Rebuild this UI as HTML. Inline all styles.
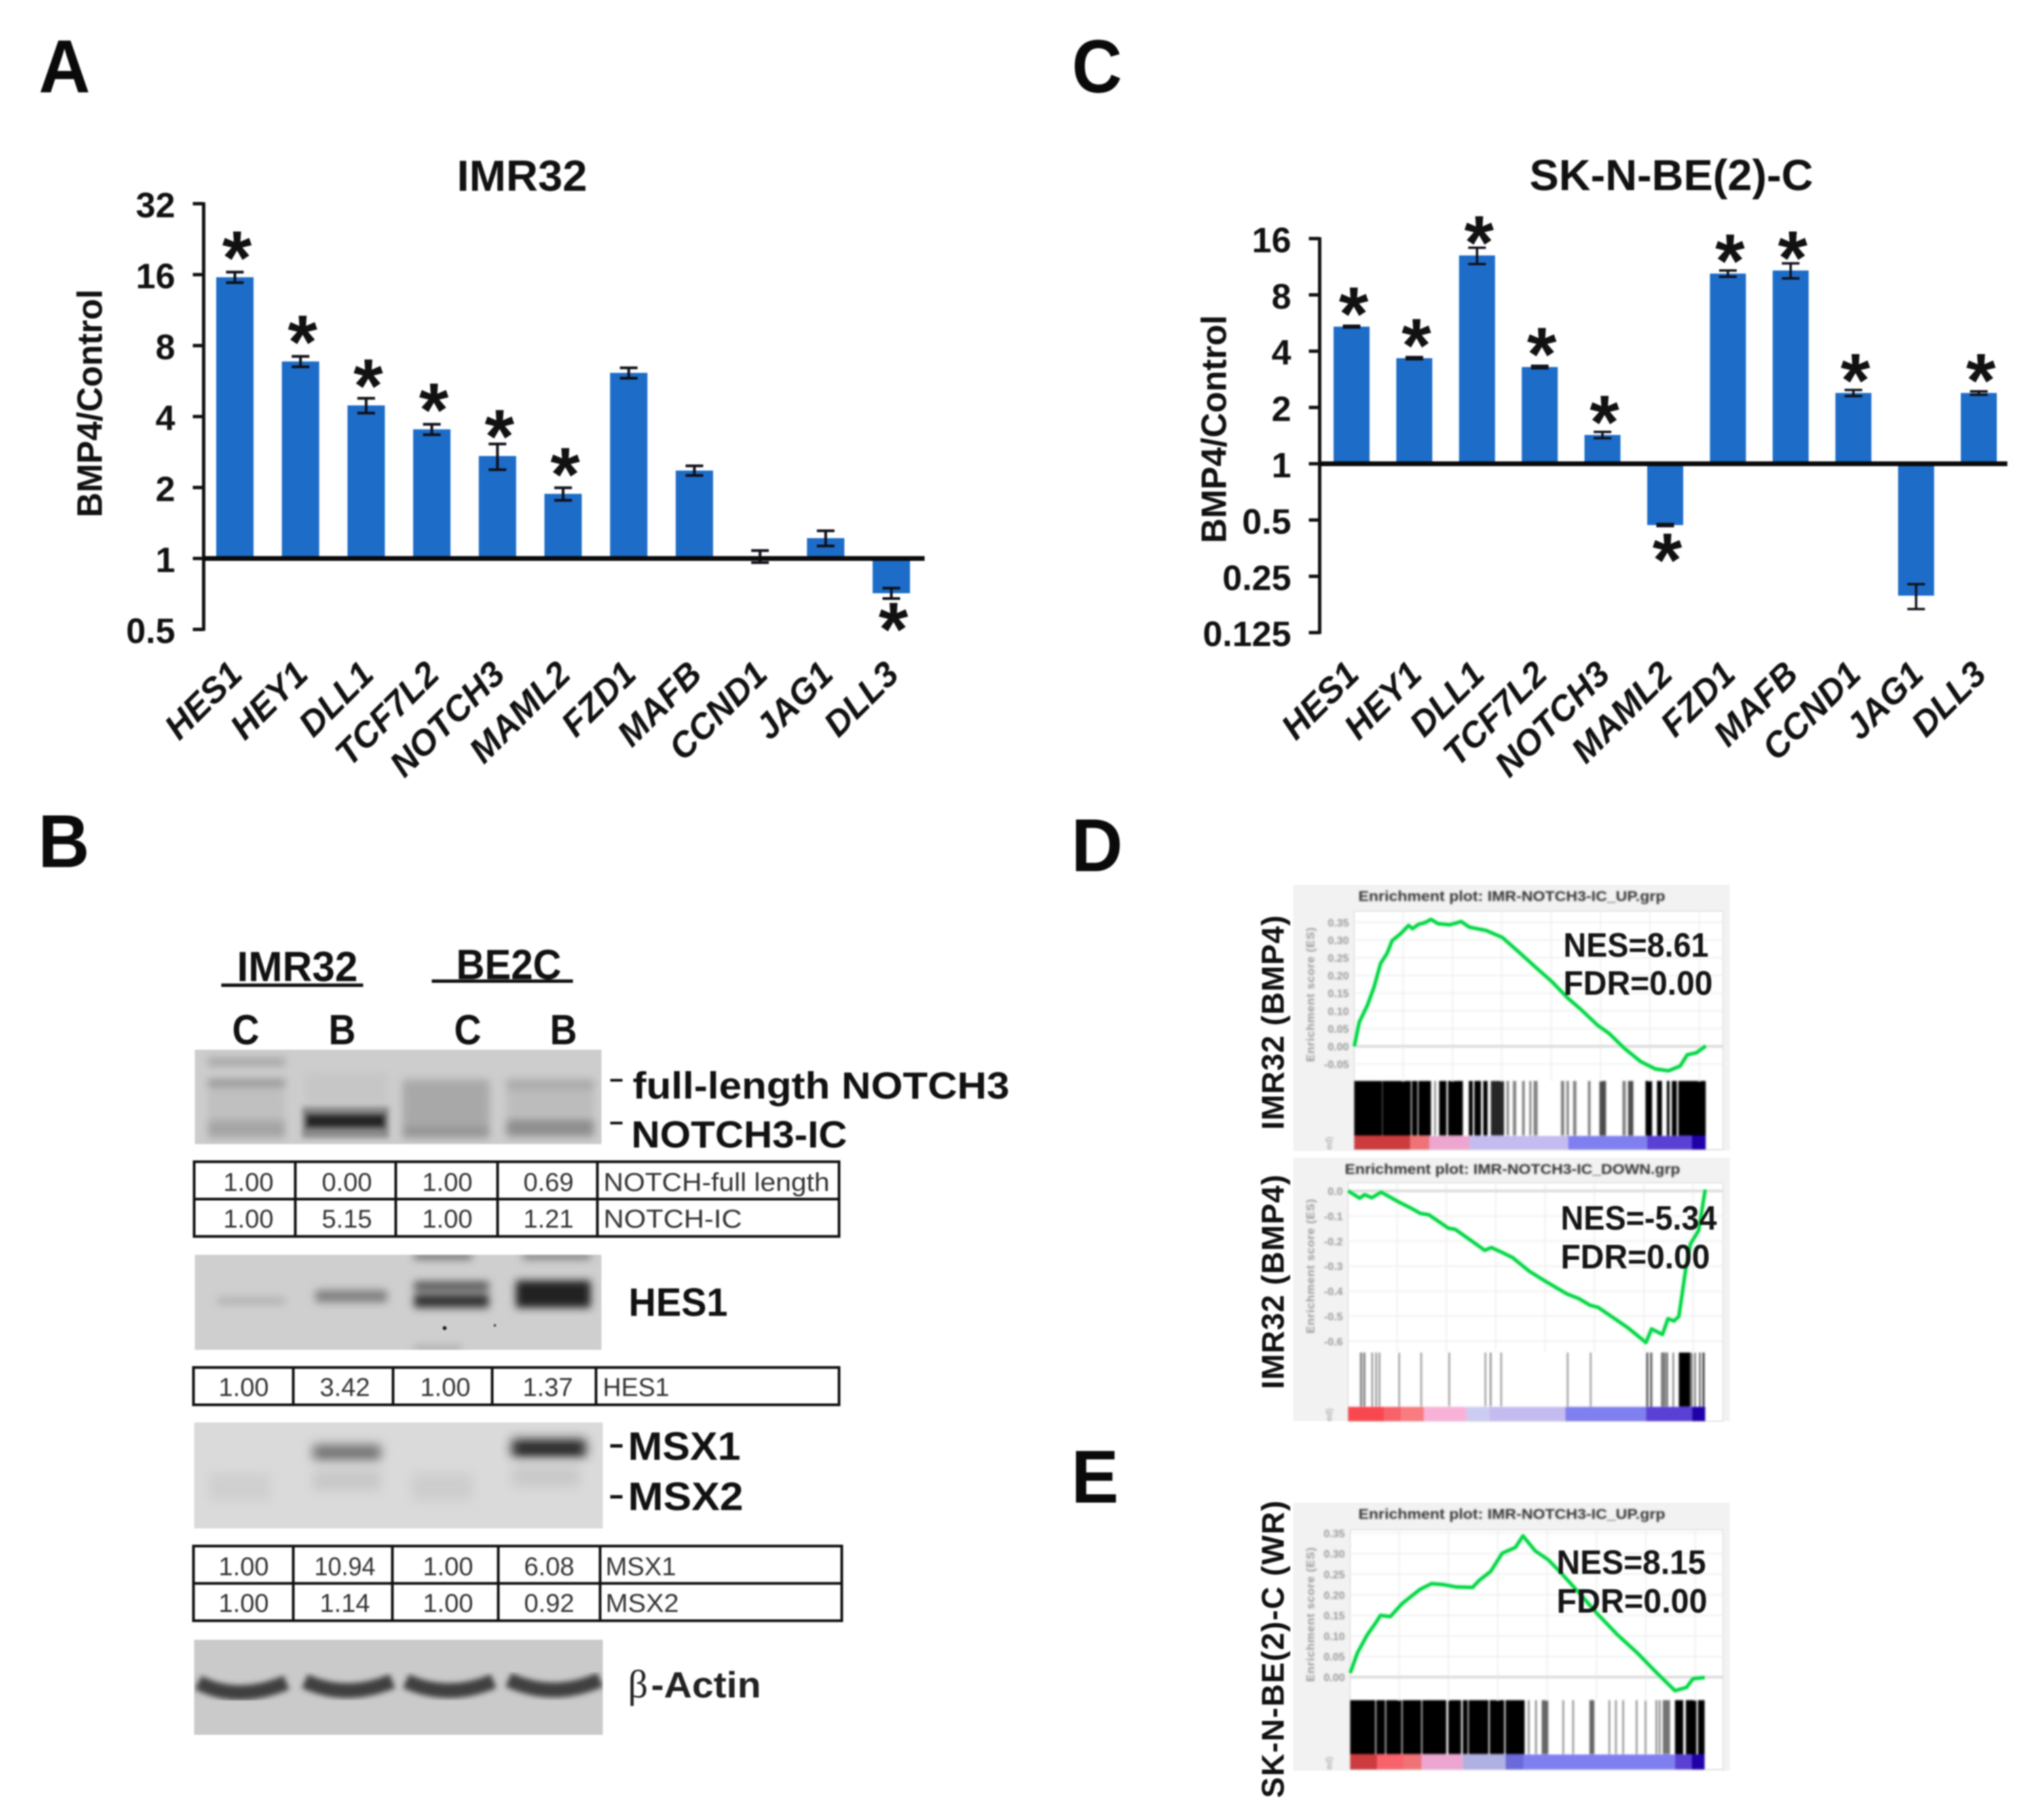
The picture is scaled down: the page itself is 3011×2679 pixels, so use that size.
<!DOCTYPE html>
<html lang="en">
<head>
<meta charset="utf-8">
<title>BMP4 NOTCH3 figure</title>
<style>
html,body{margin:0;padding:0;background:#fff;width:3011px;height:2679px;overflow:hidden}
svg{display:block;font-family:"Liberation Sans",sans-serif}
#fig{filter:blur(1px)}
.b{font-weight:700}
.cell{font-size:38px;fill:#333;text-anchor:middle}
.rowlab{font-size:38px;fill:#333}
.rule{stroke:#111;stroke-width:4;fill:none}
</style>
</head>
<body>
<svg id="fig" xmlns="http://www.w3.org/2000/svg" width="3011" height="2679" viewBox="0 0 3011 2679">
<defs>
<filter id="b1" x="-5%" y="-5%" width="110%" height="110%"><feGaussianBlur stdDeviation="1"/></filter>
<filter id="b4" x="-30%" y="-60%" width="160%" height="220%"><feGaussianBlur stdDeviation="4"/></filter>
<filter id="b6" x="-30%" y="-60%" width="160%" height="220%"><feGaussianBlur stdDeviation="6"/></filter>
<filter id="b8" x="-30%" y="-80%" width="160%" height="260%"><feGaussianBlur stdDeviation="8"/></filter>
<clipPath id="c1"><rect x="287" y="1546" width="599" height="139"/></clipPath>
<clipPath id="c2"><rect x="287" y="1848" width="599" height="140"/></clipPath>
<clipPath id="c3"><rect x="286" y="2095" width="602" height="156"/></clipPath>
<clipPath id="c4"><rect x="286" y="2413" width="602" height="140"/></clipPath>
</defs>
<rect width="3011" height="2679" fill="#fff"/>

<g class="b" font-size="110" fill="#0a0a0a">
<text x="57" y="136" textLength="76" lengthAdjust="spacingAndGlyphs">A</text>
<text x="56" y="1277" textLength="76" lengthAdjust="spacingAndGlyphs">B</text>
<text x="1579" y="136" textLength="74" lengthAdjust="spacingAndGlyphs">C</text>
<text x="1578" y="1283" textLength="76" lengthAdjust="spacingAndGlyphs">D</text>
<text x="1578" y="2213" textLength="70" lengthAdjust="spacingAndGlyphs">E</text>
</g>

<g id="chartA"></g>
<g id="chartC"></g>

<g>
<g class="b" font-size="62" fill="#111">
<text x="349" y="1445" textLength="178" lengthAdjust="spacingAndGlyphs">IMR32</text>
<text x="672" y="1442" textLength="155" lengthAdjust="spacingAndGlyphs">BE2C</text>
<text x="362" y="1538" text-anchor="middle" textLength="40" lengthAdjust="spacingAndGlyphs">C</text>
<text x="504" y="1538" text-anchor="middle" textLength="40" lengthAdjust="spacingAndGlyphs">B</text>
<text x="689" y="1538" text-anchor="middle" textLength="40" lengthAdjust="spacingAndGlyphs">C</text>
<text x="830" y="1538" text-anchor="middle" textLength="40" lengthAdjust="spacingAndGlyphs">B</text>
</g>
<line x1="326" x2="535" y1="1451" y2="1451" stroke="#111" stroke-width="5"/>
<line x1="636" x2="844" y1="1445" y2="1445" stroke="#111" stroke-width="5"/>

<g clip-path="url(#c1)">
<rect x="287" y="1546" width="599" height="139" fill="#cdcdcd"/>
<g filter="url(#b6)">
<rect x="306" y="1558" width="114" height="12" fill="#a4a4a4"/>
<rect x="306" y="1590" width="114" height="10" fill="#8e8e8e"/>
<rect x="306" y="1600" width="114" height="50" fill="#c0c0c0"/>
<rect x="306" y="1650" width="114" height="26" fill="#a4a4a4"/>
<rect x="450" y="1580" width="120" height="45" fill="#c6c6c6"/>
<rect x="593" y="1590" width="128" height="84" fill="#a8a8a8"/>
<rect x="593" y="1660" width="128" height="16" fill="#949494"/>
<rect x="746" y="1590" width="129" height="14" fill="#a8a8a8"/>
<rect x="746" y="1604" width="129" height="40" fill="#bcbcbc"/>
<rect x="746" y="1648" width="129" height="26" fill="#8e8e8e"/>
</g>
<g filter="url(#b4)">
<rect x="445" y="1630" width="128" height="46" fill="#8a8a8a"/>
<rect x="450" y="1640" width="118" height="22" fill="#262626"/>
</g>
</g>
<g class="b" font-size="56" fill="#111">
<rect x="899" y="1589" width="18" height="4" fill="#111"/>
<rect x="899" y="1652" width="18" height="4" fill="#111"/>
<text x="932" y="1618" textLength="555" lengthAdjust="spacingAndGlyphs">full-length  NOTCH3</text>
<text x="930" y="1690" textLength="318" lengthAdjust="spacingAndGlyphs">NOTCH3-IC</text>
</g>

<g transform="translate(0,-9)">
<rect class="rule" x="286" y="1720" width="950" height="110"/>
<line class="rule" x1="286" x2="1236" y1="1775" y2="1775"/>
<line class="rule" x1="435" x2="435" y1="1720" y2="1830"/>
<line class="rule" x1="583" x2="583" y1="1720" y2="1830"/>
<line class="rule" x1="733" x2="733" y1="1720" y2="1830"/>
<line class="rule" x1="880" x2="880" y1="1720" y2="1830"/>
<text class="cell" x="366" y="1763">1.00</text>
<text class="cell" x="511" y="1763">0.00</text>
<text class="cell" x="659" y="1763">1.00</text>
<text class="cell" x="808" y="1763">0.69</text>
<text class="rowlab" x="889" y="1763" textLength="333" lengthAdjust="spacingAndGlyphs">NOTCH-full length</text>
<text class="cell" x="366" y="1817">1.00</text>
<text class="cell" x="511" y="1817">5.15</text>
<text class="cell" x="659" y="1817">1.00</text>
<text class="cell" x="808" y="1817">1.21</text>
<text class="rowlab" x="889" y="1817" textLength="204" lengthAdjust="spacingAndGlyphs">NOTCH-IC</text>
</g>

<g clip-path="url(#c2)">
<rect x="287" y="1848" width="599" height="140" fill="#cfcfcf"/>
<g filter="url(#b6)">
<rect x="320" y="1912" width="100" height="8" fill="#a8a8a8"/>
<rect x="465" y="1900" width="105" height="18" fill="#808080"/>
<rect x="610" y="1888" width="110" height="12" fill="#484848"/>
<rect x="610" y="1906" width="110" height="20" fill="#303030"/>
<rect x="760" y="1886" width="110" height="40" fill="#222"/>
<rect x="610" y="1846" width="85" height="8" fill="#5c5c5c"/>
<rect x="770" y="1846" width="100" height="8" fill="#6c6c6c"/>
<rect x="610" y="1982" width="70" height="8" fill="#a8a8a8"/>
</g>
<circle cx="655" cy="1956" r="3" fill="#222"/>
<circle cx="729" cy="1952" r="2" fill="#555"/>
</g>
<text class="b" x="926" y="1938" font-size="58" fill="#111" textLength="146" lengthAdjust="spacingAndGlyphs">HES1</text>

<g>
<rect class="rule" x="285" y="2014" width="951" height="55"/>
<line class="rule" x1="432" x2="432" y1="2014" y2="2069"/>
<line class="rule" x1="579" x2="579" y1="2014" y2="2069"/>
<line class="rule" x1="725" x2="725" y1="2014" y2="2069"/>
<line class="rule" x1="878" x2="878" y1="2014" y2="2069"/>
<text class="cell" x="359" y="2056">1.00</text>
<text class="cell" x="508" y="2056">3.42</text>
<text class="cell" x="656" y="2056">1.00</text>
<text class="cell" x="807" y="2056">1.37</text>
<text class="rowlab" x="888" y="2056" textLength="98" lengthAdjust="spacingAndGlyphs">HES1</text>
</g>

<g clip-path="url(#c3)">
<rect x="286" y="2095" width="602" height="156" fill="#dadada"/>
<g filter="url(#b8)">
<rect x="461" y="2128" width="100" height="22" fill="#6e6e6e"/>
<rect x="754" y="2120" width="109" height="26" fill="#222"/>
<rect x="461" y="2165" width="100" height="30" fill="#c8c8c8"/>
<rect x="308" y="2170" width="90" height="40" fill="#cfcfcf"/>
<rect x="606" y="2170" width="90" height="40" fill="#cdcdcd"/>
<rect x="754" y="2160" width="100" height="30" fill="#c9c9c9"/>
</g>
</g>
<g class="b" font-size="58" fill="#111">
<rect x="899" y="2127" width="18" height="5" fill="#111"/>
<rect x="899" y="2202" width="18" height="5" fill="#111"/>
<text x="925" y="2150" textLength="166" lengthAdjust="spacingAndGlyphs">MSX1</text>
<text x="925" y="2224" textLength="170" lengthAdjust="spacingAndGlyphs">MSX2</text>
</g>

<g>
<rect class="rule" x="285" y="2277" width="955" height="110"/>
<line class="rule" x1="285" x2="1240" y1="2332" y2="2332"/>
<line class="rule" x1="432" x2="432" y1="2277" y2="2387"/>
<line class="rule" x1="578" x2="578" y1="2277" y2="2387"/>
<line class="rule" x1="734" x2="734" y1="2277" y2="2387"/>
<line class="rule" x1="884" x2="884" y1="2277" y2="2387"/>
<text class="cell" x="359" y="2320">1.00</text>
<text class="cell" x="508" y="2320" textLength="90" lengthAdjust="spacingAndGlyphs">10.94</text>
<text class="cell" x="660" y="2320">1.00</text>
<text class="cell" x="809" y="2320">6.08</text>
<text class="rowlab" x="892" y="2320" textLength="104" lengthAdjust="spacingAndGlyphs">MSX1</text>
<text class="cell" x="359" y="2374">1.00</text>
<text class="cell" x="508" y="2374">1.14</text>
<text class="cell" x="660" y="2374">1.00</text>
<text class="cell" x="809" y="2374">0.92</text>
<text class="rowlab" x="892" y="2374" textLength="108" lengthAdjust="spacingAndGlyphs">MSX2</text>
</g>

<g clip-path="url(#c4)" transform="translate(0,2)">
<rect x="286" y="2413" width="602" height="140" fill="#cacaca"/>
<g filter="url(#b4)" fill="none" stroke="#404040" stroke-width="22">
<path d="M292 2476 Q350 2506 422 2476"/>
<path d="M449 2474 Q510 2502 578 2474"/>
<path d="M598 2474 Q660 2502 727 2474"/>
<path d="M749 2472 Q815 2502 884 2472"/>
</g>
</g>
<text x="925" y="2500" font-size="58" fill="#222" font-family="Liberation Serif, serif">β</text>
<text class="b" x="959" y="2500" font-size="54" fill="#222" textLength="162" lengthAdjust="spacingAndGlyphs">-Actin</text>
</g>

<g id="gseaD1" transform="translate(0,-9)"></g>
<g id="gseaD2" transform="translate(0,-9)"></g>
<g id="gseaE" transform="translate(0,-9)"></g>

<g class="b" fill="#111">
<text transform="translate(1891,1664) rotate(-90)" font-size="46" textLength="316" lengthAdjust="spacing">IMR32 (BMP4)</text>
<text transform="translate(1891,2046) rotate(-90)" font-size="46" textLength="316" lengthAdjust="spacing">IMR32 (BMP4)</text>
<text transform="translate(1891,2648) rotate(-90)" font-size="46" textLength="438" lengthAdjust="spacing">SK-N-BE(2)-C (WR)</text>
</g>
</svg>

<script>
var NS = 'http://www.w3.org/2000/svg';

/* ---------- bar chart data ---------- */
var genes = ['HES1','HEY1','DLL1','TCF7L2','NOTCH3','MAML2','FZD1','MAFB','CCND1','JAG1','DLL3'];
var ticksA = ['32','16','8','4','2','1','0.5'];
var valuesA = [15.6, 6.85, 4.46, 3.53, 2.72, 1.88, 6.13, 2.36, 1.02, 1.22, 0.712];
var errorsA = [0.8, 0.35, 0.32, 0.18, 0.34, 0.115, 0.31, 0.11, 0.06, 0.09, 0.036];
var starsA  = [1,1,1,1,1,1,0,0,0,0,1];
var ticksC = ['16','8','4','2','1','0.5','0.25','0.125'];
var valuesC = [5.41, 3.67, 13.0, 3.29, 1.425, 0.47, 10.4, 10.8, 2.39, 0.197, 2.39];
var errorsC = [0.06, 0.05, 1.3, 0.05, 0.055, 0.006, 0.4, 1.0, 0.09, 0.03, 0.05];
var starsC  = [1,1,1,1,1,1,1,1,1,0,1];

/* ---------- enrichment data (rank along list, enrichment score) ---------- */
var ranksD1 = [0,15,40,60,80,100,115,140,165,177,195,215,233,255,290,325,350,400,450,500,550,600,650,690,740,775,820,870,915,955,990,1012,1040,1068];
var scoresD1 = [0,.068,.116,.167,.234,.263,.298,.317,.341,.332,.344,.349,.358,.346,.343,.352,.336,.327,.307,.266,.224,.183,.135,.103,.059,.036,-.005,-.043,-.064,-.069,-.056,-.024,-.018,.001];
var hitStartD1 = [0,86,175,195,243,258,285,348,365,392,415,463,482,510,532,545,628,645,665,710,745,815,832,885,920,950,965,985];
var hitEndD1 = [85,172,192,233,248,280,330,360,385,405,455,470,492,518,538,557,638,652,675,718,765,825,848,905,935,958,980,1068];
var hitToneD1 = [1,1,1,1,.5,1,1,1,1,1,.85,.5,.5,.5,.5,.5,.5,.5,.5,.5,.7,.5,.7,1,1,1,1,1];
var stripEndD1 = [170,228,350,650,890,1025,1068];
var stripClassD1 = ['red','salmon','pink','lav','blue','indigo','navy'];
var ticksD1 = [.35,.30,.25,.20,.15,.10,.05,0,-.05];
var tickTextD1 = ['0.35','0.30','0.25','0.20','0.15','0.10','0.05','0.00','-0.05'];

var ranksD2 = [0,35,50,72,100,125,155,190,220,245,275,305,325,365,415,435,465,500,550,600,665,700,735,760,800,850,905,922,955,972,990,1005,1015,1025,1040,1065,1075,1085];
var scoresD2 = [0,-.029,-.015,-.027,-.005,-.023,-.045,-.068,-.09,-.095,-.122,-.149,-.153,-.19,-.237,-.226,-.244,-.266,-.32,-.361,-.411,-.429,-.456,-.465,-.501,-.546,-.605,-.551,-.573,-.51,-.519,-.501,-.411,-.32,-.212,-.158,-.077,.005];
var hitStartD2 = [36,46,71,83,93,153,220,305,415,431,463,665,735,906,918,951,958,966,986,1005,1042,1052,1067,1077];
var hitEndD2 = [42,52,75,87,97,157,224,309,419,435,467,669,739,912,924,957,964,972,990,1040,1046,1056,1071,1083];
var hitToneD2 = [.55,.55,.55,.55,.55,.5,.5,.5,.5,.6,.5,.5,.5,.7,.7,.6,.6,.6,.6,1,.7,.7,.8,.8];
var stripEndD2 = [110,160,230,360,430,660,905,1045,1085];
var stripClassD2 = ['bright','coral','salmon2','pink2','lav2','lav','blue','indigo','navy'];
var ticksD2 = [0,-.1,-.2,-.3,-.4,-.5,-.6];
var tickTextD2 = ['0.0','-0.1','-0.2','-0.3','-0.4','-0.5','-0.6'];

var ranksE = [0,22,52,77,92,122,157,182,212,247,282,322,372,392,427,462,502,525,562,602,642,692,752,812,872,932,987,1022,1042,1077];
var scoresE = [.01,.059,.103,.131,.15,.147,.178,.194,.213,.227,.225,.219,.218,.235,.257,.301,.315,.343,.307,.285,.252,.208,.153,.103,.059,.01,-.033,-.025,-.004,-.001];
var hitStartE = [0,79,109,159,219,298,342,360,424,472,540,562,582,645,675,727,785,805,827,868,895,928,938,950,987,1020,1057];
var hitEndE = [76,106,156,216,292,337,357,420,468,530,545,567,602,650,680,742,790,810,832,873,900,933,943,972,1012,1052,1077];
var hitToneE = [1,1,1,1,1,1,1,1,1,1,.5,.5,.6,.45,.45,.6,.45,.45,.45,.45,.45,.5,.5,.55,1,1,1];
var stripEndE = [82,162,217,342,472,527,987,1037,1077];
var stripClassE = ['red','coral','salmon','pink','lav3','blue2','blue','indigo','navy'];
var ticksE = [.35,.30,.25,.20,.15,.10,.05,0];
var tickTextE = ['0.35','0.30','0.25','0.20','0.15','0.10','0.05','0.00'];

var palette = {red:'#cc3a3c',salmon:'#ee7276',pink:'#eca6cf',lav:'#c4bcf0',blue:'#7f7ff0',indigo:'#5a40d4',navy:'#2000a8',bright:'#f84650',coral:'#f8626a',salmon2:'#f87c80',pink2:'#f8b2d8',lav2:'#ccccf2',lav3:'#b0b0e2',blue2:'#6a6ad8'};

function mk(tag, attrs, parent) {
  var el = document.createElementNS(NS, tag);
  for (var k in attrs) el.setAttribute(k, attrs[k]);
  parent.appendChild(el);
  return el;
}

function drawBars(root, o) {
  function y(v) { return o.y1 - Math.log2(v) * o.unit; }
  function cx(i) { return o.x0 + o.step * i; }

  var title = mk('text', {x:o.titleX, y:o.titleY, 'font-size':64, 'font-weight':700, fill:'#111', 'text-anchor':'middle', textLength:o.titleLen, lengthAdjust:'spacingAndGlyphs'}, root);
  title.textContent = o.title;
  
  

  var yt = mk('text', {transform:'translate(' + o.axisTitleX + ',' + o.axisTitleY + ') rotate(-90)', 'font-size':52, 'font-weight':700, fill:'#111', 'text-anchor':'middle', textLength:336, lengthAdjust:'spacingAndGlyphs'}, root);
  yt.textContent = 'BMP4/Control';
  
  

  o.values.forEach(function (v, i) {
    var top = Math.min(y(v), y(1)), h = Math.abs(y(v) - y(1));
    var bar = mk('rect', {x:cx(i) - o.barW / 2, y:top, width:o.barW, height:h, fill:'#1c6cc8'}, root);
    
    

    var hi = y(v + o.errors[i]), lo = y(v - o.errors[i]);
    var err = mk('path', {d:'M' + (cx(i) - 13) + ' ' + hi + 'h26M' + cx(i) + ' ' + hi + 'V' + lo + 'M' + (cx(i) - 13) + ' ' + lo + 'h26', stroke:'#101018', 'stroke-width':o.errW, fill:'none'}, root);
    
    

    if (o.stars[i]) {
      var c = v >= 1 ? y(v) - o.starGap : y(v) + o.starBelow;
      var star = mk('text', {x:cx(i) + 3, y:c + 50, 'font-size':112, 'font-weight':700, fill:'#111', 'text-anchor':'middle'}, root);
      star.textContent = '*';
      
      
    }

    var lab = mk('text', {transform:'translate(' + (cx(i) + 14) + ',' + o.labY + ') rotate(-45)', 'font-size':52, 'font-weight':700, 'font-style':'italic', fill:'#111', 'text-anchor':'end'}, root);
    lab.textContent = genes[i];
    
    
  });

  var ax = mk('line', {x1:o.axisX, x2:o.axisX, y1:y(+o.ticks[0]) - 2, y2:y(+o.ticks[o.ticks.length - 1]) + 2, stroke:'#111', 'stroke-width':5}, root);
  
  

  o.ticks.forEach(function (t) {
    var m = mk('line', {x1:o.axisX - 16, x2:o.axisX, y1:y(+t), y2:y(+t), stroke:'#111', 'stroke-width':5}, root);
    
    
    var tl = mk('text', {x:o.axisX - 42, y:y(+t) + 20, 'font-size':52, 'font-weight':700, fill:'#111', 'text-anchor':'end'}, root);
    tl.textContent = t;
    
    
  });

  var base = mk('line', {x1:o.axisX, x2:o.baseEnd, y1:y(1), y2:y(1), stroke:'#0a0a0a', 'stroke-width':7}, root);
  
  
}

function drawGsea(root, o) {
  function px(r) { return o.left + r * o.k; }
  function py(s) { return o.y0 - s * o.esUnit; }

  var panel = mk('rect', {x:1905, y:o.panelY, width:643, height:o.panelH, fill:'#f2f2f2'}, root);
  
  

  var area = mk('rect', {x:o.left, y:o.plotY, width:2538 - o.left, height:o.plotH + o.hitH + o.stripH, fill:'#fff', stroke:'#e6e6e6', 'stroke-width':2}, root);
  
  

  var blurred = mk('g', {filter:'url(#b1)'}, root);

  for (var gx = 72; gx < 540; gx += 72.7) {
    var vg = mk('line', {x1:o.left + gx, x2:o.left + gx, y1:o.plotY, y2:o.hitTop, stroke:'#f0f0f0', 'stroke-width':2}, blurred);
    
    
  }

  o.ticks.forEach(function (t, i) {
    var g = mk('line', {x1:o.left, x2:2538, y1:py(t), y2:py(t), stroke:t === 0 ? '#dcdcdc' : '#f0f0f0', 'stroke-width':t === 0 ? 4 : 2}, blurred);
    
    
    var l = mk('text', {x:o.left - 8, y:py(t) + 6, 'font-size':16, 'font-weight':700, fill:'#999', 'text-anchor':'end'}, blurred);
    l.textContent = o.tickText[i];
    
    
  });

  var at = mk('text', {transform:'translate(1936,' + o.esTitleY + ') rotate(-90)', 'font-size':17, 'font-weight':700, fill:'#999', 'text-anchor':'middle', textLength:198, lengthAdjust:'spacing'}, blurred);
  at.textContent = 'Enrichment score (ES)';
  
  

  var ti = mk('text', {x:o.titleX, y:o.titleY, 'font-size':21, 'font-weight':700, fill:'#333', textLength:o.titleLen, lengthAdjust:'spacingAndGlyphs'}, blurred);
  ti.textContent = o.title;
  
  

  o.hitStart.forEach(function (s, i) {
    var h = mk('rect', {x:px(s), y:o.hitTop, width:(o.hitEnd[i] - s) * o.k, height:o.hitH, fill:'#000', 'fill-opacity':o.hitTone[i]}, blurred);
    
    
  });

  var prev = 0;
  o.stripEnd.forEach(function (e, i) {
    var seg = mk('rect', {x:px(prev), y:o.hitTop + o.hitH, width:(e - prev) * o.k, height:o.stripH, fill:palette[o.stripClass[i]]}, blurred);
    
    
    prev = e;
  });

  var rk = mk('text', {transform:'translate(1962,' + (o.hitTop + o.hitH + o.stripH) + ') rotate(-90)', 'font-size':13, fill:'#999'}, blurred);
  rk.textContent = 'ed)';
  
  

  var d = o.ranks.map(function (r, i) { return (i ? 'L' : 'M') + px(r).toFixed(1) + ' ' + py(o.scores[i]).toFixed(1); }).join('');
  var halo = mk('path', {d:d, fill:'none', stroke:'#7df0a0', 'stroke-width':6.5, 'stroke-linejoin':'round', filter:'url(#b1)'}, root);
  
  
  var curve = mk('path', {d:d, fill:'none', stroke:'#0cd64a', 'stroke-width':4.5, 'stroke-linejoin':'round'}, root);
  
  

  var nes = mk('text', {x:o.statX, y:o.nesY, 'font-size':50, 'font-weight':700, fill:'#151515', textLength:o.nesLen, lengthAdjust:'spacingAndGlyphs'}, root);
  nes.textContent = o.nes;
  
  
  var fdr = mk('text', {x:o.statX, y:o.fdrY, 'font-size':50, 'font-weight':700, fill:'#151515', textLength:o.fdrLen, lengthAdjust:'spacingAndGlyphs'}, root);
  fdr.textContent = 'FDR=0.00';
  
  
}

drawBars(document.getElementById('chartA'), {
  title:'IMR32', titleX:769, titleY:281, titleLen:192,
  axisX:300, axisTitleX:150, axisTitleY:594, y1:822.5, unit:104.5, baseEnd:1362,
  x0:346, step:96.7, barW:55, errW:4, starGap:40, starBelow:42, labY:996,
  values:valuesA, errors:errorsA, stars:starsA, ticks:ticksA
});
drawBars(document.getElementById('chartC'), {
  title:'SK-N-BE(2)-C', titleX:2462, titleY:280, titleLen:418,
  axisX:1944, axisTitleX:1806, axisTitleY:632, y1:683, unit:82.9, baseEnd:2957,
  x0:1991, step:92.4, barW:53, errW:3.5, starGap:30, starBelow:40, labY:996,
  values:valuesC, errors:errorsC, stars:starsC, ticks:ticksC
});
drawGsea(document.getElementById('gseaD1'), {
  panelY:1312, panelH:392, plotY:1351, plotH:250, left:1995, k:.4847, y0:1550, esUnit:522,
  hitTop:1601, hitH:81, stripH:20, esTitleY:1474,
  title:'Enrichment plot: IMR-NOTCH3-IC_UP.grp', titleX:2001, titleY:1336, titleLen:452,
  ranks:ranksD1, scores:scoresD1, hitStart:hitStartD1, hitEnd:hitEndD1, hitTone:hitToneD1,
  stripEnd:stripEndD1, stripClass:stripClassD1, ticks:ticksD1, tickText:tickTextD1,
  nes:'NES=8.61', statX:2303, nesY:1418, nesLen:214, fdrY:1474, fdrLen:220
});
drawGsea(document.getElementById('gseaD2'), {
  panelY:1714, panelH:388, plotY:1751, plotH:250, left:1986, k:.4847, y0:1763, esUnit:369,
  hitTop:2001, hitH:80, stripH:21, esTitleY:1874,
  title:'Enrichment plot: IMR-NOTCH3-IC_DOWN.grp', titleX:1981, titleY:1738, titleLen:494,
  ranks:ranksD2, scores:scoresD2, hitStart:hitStartD2, hitEnd:hitEndD2, hitTone:hitToneD2,
  stripEnd:stripEndD2, stripClass:stripClassD2, ticks:ticksD2, tickText:tickTextD2,
  nes:'NES=-5.34', statX:2299, nesY:1820, nesLen:230, fdrY:1877, fdrLen:220
});
drawGsea(document.getElementById('gseaE'), {
  panelY:2222, panelH:395, plotY:2262, plotH:251, left:1989, k:.4847, y0:2479, esUnit:606,
  hitTop:2513, hitH:80, stripH:22, esTitleY:2387,
  title:'Enrichment plot: IMR-NOTCH3-IC_UP.grp', titleX:2001, titleY:2246, titleLen:452,
  ranks:ranksE, scores:scoresE, hitStart:hitStartE, hitEnd:hitEndE, hitTone:hitToneE,
  stripEnd:stripEndE, stripClass:stripClassE, ticks:ticksE, tickText:tickTextE,
  nes:'NES=8.15', statX:2293, nesY:2327, nesLen:220, fdrY:2384, fdrLen:222
});
</script>
</body>
</html>
